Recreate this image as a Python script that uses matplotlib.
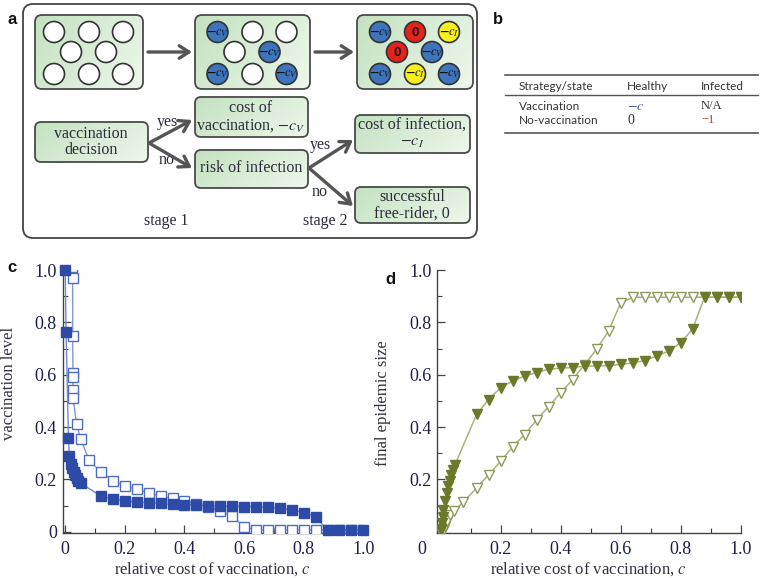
import numpy as np
import matplotlib
matplotlib.use("Agg")
import matplotlib.pyplot as plt
from matplotlib.patches import FancyBboxPatch, Circle
from matplotlib.colors import LinearSegmentedColormap
import matplotlib.transforms as mtransforms

plt.rcParams['mathtext.fontset'] = 'stix'
SERIF = 'Liberation Serif'

# ---- panel c data: vaccination level vs relative cost
c_filled_x = [0.0, 0.003, 0.011, 0.014, 0.02, 0.024, 0.028, 0.033, 0.039, 0.044, 0.052,
              0.12, 0.16, 0.2, 0.24, 0.28, 0.32, 0.36, 0.4, 0.44, 0.48, 0.52, 0.56,
              0.6, 0.64, 0.68, 0.72, 0.76, 0.8, 0.84, 0.88, 0.92, 0.96, 1.0]
c_filled_y = [1.0, 0.764, 0.357, 0.29, 0.257, 0.243, 0.23, 0.218, 0.205, 0.195, 0.185,
              0.136, 0.125, 0.118, 0.113, 0.111, 0.108, 0.104, 0.103, 0.103, 0.099, 0.098, 0.098,
              0.096, 0.096, 0.093, 0.09, 0.083, 0.073, 0.057, 0.005, 0.005, 0.005, 0.005]
c_open_x = [0.022, 0.025, 0.025, 0.026, 0.025, 0.027, 0.027, 0.038, 0.052, 0.08,
            0.12, 0.16, 0.2, 0.24, 0.28, 0.32, 0.36, 0.4, 0.44, 0.48, 0.52, 0.56,
            0.6, 0.64, 0.68, 0.72, 0.76, 0.8, 0.84, 0.88, 0.92, 0.96, 1.0]
c_open_y = [1.01, 0.97, 0.748, 0.605, 0.59, 0.54, 0.51, 0.41, 0.355, 0.274,
            0.227, 0.195, 0.175, 0.162, 0.149, 0.136, 0.127, 0.118, 0.106, 0.094, 0.078, 0.061,
            0.018, 0.007, 0.007, 0.007, 0.007, 0.007, 0.007, 0.007, 0.007, 0.007, 0.007]

# ---- panel d data: final epidemic size vs relative cost
d_filled_x = [0.0, 0.003, 0.005, 0.007, 0.009, 0.014, 0.02, 0.025, 0.031, 0.036, 0.042, 0.048,
              0.12, 0.16, 0.2, 0.24, 0.28, 0.32, 0.36, 0.4, 0.44, 0.48, 0.52, 0.56,
              0.6, 0.64, 0.68, 0.72, 0.76, 0.8, 0.84, 0.88, 0.92, 0.96, 1.0]
d_filled_y = [0.005, 0.01, 0.033, 0.058, 0.084, 0.116, 0.148, 0.173, 0.195, 0.218, 0.237, 0.256,
              0.448, 0.505, 0.55, 0.576, 0.595, 0.608, 0.621, 0.625, 0.627, 0.633, 0.633, 0.635,
              0.639, 0.645, 0.654, 0.671, 0.69, 0.722, 0.774, 0.896, 0.896, 0.896, 0.896]
d_open_x = [0.0, 0.004, 0.008, 0.012, 0.016, 0.022, 0.033, 0.044, 0.075,
            0.12, 0.16, 0.2, 0.24, 0.28, 0.32, 0.36, 0.4, 0.44, 0.48, 0.52, 0.56,
            0.6, 0.64, 0.68, 0.72, 0.76, 0.8, 0.84, 0.88, 0.92, 0.96, 1.0]
d_open_y = [0.0, 0.003, 0.006, 0.01, 0.02, 0.04, 0.065, 0.078, 0.113,
            0.167, 0.217, 0.269, 0.324, 0.371, 0.427, 0.478, 0.53, 0.581, 0.638, 0.697, 0.767,
            0.873, 0.896, 0.896, 0.896, 0.896, 0.896, 0.896, 0.896, 0.896, 0.896, 0.896]

# ---- panel a: individuals in the three population snapshots (v = vaccinated, i = infected, f = free-rider)
pop_before = ['n', 'n', 'n', 'n', 'n', 'n', 'n', 'n']
pop_stage1 = ['v', 'n', 'n', 'n', 'v', 'v', 'n', 'v']
pop_stage2 = ['v', 'f', 'i', 'f', 'v', 'v', 'i', 'v']

# ---- panel b: payoff table
table_header = ['Strategy/state', 'Healthy', 'Infected']
table_rows = [['Vaccination', r'$-c$', 'N/A'],
              ['No-vaccination', '0', '\u22121']]

fig = plt.figure(figsize=(7.63, 5.78), dpi=100)
W, H = 763, 578

ink = '#2a2a3c'
tick_ink = '#1c1f4a'


def style_axes(ax):
    for s in ['top', 'right']:
        ax.spines[s].set_visible(False)
    for s in ['left', 'bottom']:
        ax.spines[s].set_color('#444444')
        ax.spines[s].set_linewidth(1.0)
    ax.tick_params(which='both', direction='in', colors='#444444', labelcolor=tick_ink,
                   labelsize=13)
    ax.tick_params(which='major', length=6, width=0.9)
    ax.tick_params(which='minor', length=3.5, width=0.8)
    ax.tick_params(axis='x', pad=6)
    ax.tick_params(axis='y', pad=4)
    for lab in ax.get_xticklabels() + ax.get_yticklabels():
        lab.set_family(SERIF)
    ax.set_xticks(np.arange(0.1, 1.0, 0.2), minor=True)
    ax.set_yticks(np.arange(0.1, 1.0, 0.2), minor=True)


# ---------------- panel c
axc = fig.add_axes([62.5 / W, (H - 533) / H, 300.8 / W, 263 / H])
axc.plot(c_open_x, c_open_y, '-', color='#8097d6', lw=1.0, marker='s', ms=6.5,
         mfc='white', mec='#4d6cc4', mew=1.0, clip_on=True, zorder=3)
axc.plot(c_filled_x, c_filled_y, '-', color='#7189d0', lw=1.0, marker='s', ms=6.5,
         mfc='#2c4aa6', mec='#2c4aa6', clip_on=False, zorder=4)
axc.set_xlim(-0.009, 1.0)
axc.set_ylim(-0.005, 1.0)
axc.set_xticks([0, 0.2, 0.4, 0.6, 0.8, 1.0])
axc.set_xticklabels(['0', '0.2', '0.4', '0.6', '0.8', '1.0'])
axc.set_yticks([0, 0.2, 0.4, 0.6, 0.8, 1.0])
axc.set_yticklabels(['0', '0.2', '0.4', '0.6', '0.8', '1.0'])
style_axes(axc)
axc.set_xlabel('relative cost of vaccination, $c$', family=SERIF, fontsize=12, color='#333340')
axc.xaxis.set_label_coords(0.5, -0.105)
axc.set_ylabel('vaccination level', family=SERIF, fontsize=12, color='#333340')
axc.yaxis.set_label_coords(-0.151, 0.57)

# ---------------- panel d
axd = fig.add_axes([437.3 / W, (H - 533) / H, 303.2 / W, 263 / H])
axd.plot(d_open_x, d_open_y, '-', color='#a9b27a', lw=1.1, marker='v', ms=7.5,
         mfc='white', mec='#8d985a', mew=1.0, zorder=3)
axd.plot(d_filled_x, d_filled_y, '-', color='#a9b27a', lw=1.1, marker='v', ms=7.5,
         mfc='#6b7a2a', mec='#6b7a2a', zorder=4)
axd.set_xlim(-0.011, 1.0)
axd.set_ylim(-0.005, 1.0)
axd.set_xticks([0, 0.2, 0.4, 0.6, 0.8, 1.0])
axd.set_xticklabels(['', '0.2', '0.4', '0.6', '0.8', '1.0'])
axd.set_yticks([0.2, 0.4, 0.6, 0.8, 1.0])
axd.set_yticklabels(['0.2', '0.4', '0.6', '0.8', '1.0'])
style_axes(axd)
trans = mtransforms.blended_transform_factory(axd.transAxes, axd.transAxes)
axd.text(-0.05, -0.03, '0', transform=trans, ha='center', va='top', family=SERIF,
         fontsize=13, color=tick_ink)
axd.set_xlabel('relative cost of vaccination, $c$', family=SERIF, fontsize=12, color='#333340')
axd.xaxis.set_label_coords(0.5, -0.105)
axd.set_ylabel('final epidemic size', family=SERIF, fontsize=12, color='#333340')
axd.yaxis.set_label_coords(-0.153, 0.494)

# ---------------- overlay in pixel coordinates for panels a and b
ov = fig.add_axes([0, 0, 1, 1], zorder=-1)
ov.set_xlim(0, W)
ov.set_ylim(H, 0)
ov.axis('off')

for lab, (x, y) in zip(['a', 'b', 'c', 'd'], [(12, 20), (498, 20), (12, 268), (390, 279)]):
    ov.text(x, y, lab, ha='center', va='center', fontsize=12, fontweight='bold',
            family='Liberation Sans', color='#111111')

outer = FancyBboxPatch((23, 4), 454, 234, boxstyle='round,pad=0,rounding_size=10',
                       fc='white', ec='#444444', lw=1.3)
ov.add_patch(outer)

green = LinearSegmentedColormap.from_list('g', ['#c3e2c0', '#eef7ec'])
gx, gy = np.meshgrid(np.linspace(0, 1, 60), np.linspace(0, 1, 30))
grad = 0.7 * gx + 0.3 * gy


def gbox(x0, y0, x1, y1, r=6):
    p = FancyBboxPatch((x0, y0), x1 - x0, y1 - y0, boxstyle='round,pad=0,rounding_size=%d' % r,
                       fc='none', ec='#4a4a4a', lw=1.3, zorder=3)
    ov.add_patch(p)
    im = ov.imshow(grad, cmap=green, extent=(x0, x1, y1, y0), aspect='auto',
                   origin='upper', zorder=2, interpolation='bilinear')
    im.set_clip_path(p)


colors = {'n': 'white', 'v': '#3d74bc', 'f': '#e2231c', 'i': '#f6ef1c'}
labels = {'n': '', 'v': r'$\mathbf{-}c_V$', 'f': '0', 'i': r'$\mathbf{-}c_I$'}
slot_dx = [0, 35, 69, 17, 52, 0, 35, 69]
slot_dy = [32, 32, 32, 52, 52, 74, 74, 74]

for (x0, x1), pop in zip([(35, 143), (195, 310), (357, 473)],
                         [pop_before, pop_stage1, pop_stage2]):
    gbox(x0, 15, x1, 89, r=7)
    base = (x0 + x1) / 2 - 35
    for s, dx, dy in zip(pop, slot_dx, slot_dy):
        cx = base + dx
        ov.add_patch(Circle((cx, dy), 10.5, fc=colors[s], ec='#333333', lw=1.2, zorder=4))
        if s == 'f':
            ov.text(cx, dy + 0.5, labels[s], ha='center', va='center', fontsize=9.5,
                    fontweight='bold', family='Liberation Sans', color='#111111', zorder=5)
        elif labels[s]:
            ov.text(cx, dy, labels[s], ha='center', va='center', fontsize=9,
                    color='#111111', zorder=5)

arrow_kw = dict(arrowstyle='->,head_length=0.7,head_width=0.45', lw=2.4, color='#555555',
                shrinkA=0, shrinkB=0)
ov.annotate('', xy=(192, 52), xytext=(148, 52), arrowprops=arrow_kw, zorder=6)
ov.annotate('', xy=(354, 52), xytext=(315, 52), arrowprops=arrow_kw, zorder=6)

gbox(35, 122, 148, 162)
gbox(195, 97, 308, 137)
gbox(195, 150, 308, 188)
gbox(355, 115, 470, 153)
gbox(355, 187, 470, 223)

tkw = dict(ha='center', va='center', family=SERIF, fontsize=11.5, color=ink, zorder=6,
           linespacing=1.05)
ov.text(91, 142, 'vaccination\ndecision', **tkw)
ov.text(251, 117, 'cost of\nvaccination, $-c_V$', **tkw)
ov.text(251, 168, 'risk of infection', **tkw)
ov.text(412, 134, 'cost of infection,\n$-c_I$', **tkw)
ov.text(412, 205, 'successful\nfree-rider, 0', **tkw)
ov.text(167, 122, 'yes', **tkw)
ov.text(167, 160, 'no', **tkw)
ov.text(320, 145, 'yes', **tkw)
ov.text(320, 192, 'no', **tkw)
ov.text(166, 221, 'stage 1', **tkw)
ov.text(325, 221, 'stage 2', **tkw)

ov.annotate('', xy=(192, 120), xytext=(149, 143), arrowprops=arrow_kw, zorder=6)
ov.annotate('', xy=(192, 168), xytext=(149, 143), arrowprops=arrow_kw, zorder=6)
ov.annotate('', xy=(353, 140), xytext=(309, 168), arrowprops=arrow_kw, zorder=6)
ov.annotate('', xy=(353, 206), xytext=(309, 168), arrowprops=arrow_kw, zorder=6)

# ---------------- panel b table
for y, lw in [(75, 1.2), (95, 1.0), (133, 1.2)]:
    ov.plot([505, 758], [y, y], color='#555555', lw=lw)
col_x = [519, 627, 701]
bkw = dict(ha='left', va='center', family='Lato', fontsize=8.5, color='#333333')
for x, t in zip(col_x, table_header):
    ov.text(x, 86, t, **bkw)
for y, row in zip([106, 120], table_rows):
    ov.text(col_x[0], y, row[0], **bkw)
    ov.text(col_x[1], y, row[1], ha='left', va='center', fontsize=10,
            color='#3a4a8a' if row[1].startswith('$') else '#333333', family=SERIF)
    ov.text(col_x[2], y, row[2], ha='left', va='center', fontsize=9,
            color='#b03a3a' if row[2] == '\u22121' else '#333333', family=SERIF)

fig.savefig('out.png', dpi=100)
